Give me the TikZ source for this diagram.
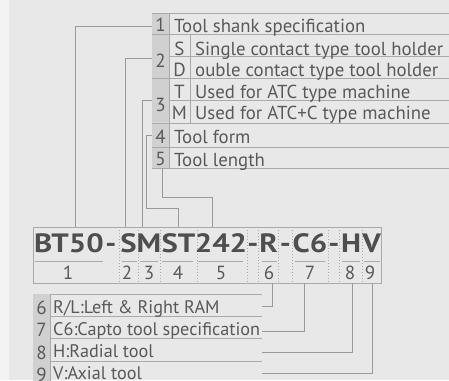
\documentclass[tikz,border=0pt]{standalone}
\usepackage{fontspec}
\setmainfont{PT Sans}
\newfontfamily\codefont{PT Sans Bold}[FakeStretch=1.16]
\definecolor{bgc}{HTML}{E8E8E8}
\definecolor{edgec}{HTML}{F3F3F3}
\definecolor{shade}{HTML}{D0D0D0}
\definecolor{rulec}{HTML}{AAAAAA}
\definecolor{connc}{HTML}{9A9A9A}
\definecolor{ink}{HTML}{595959}
\definecolor{codeink}{HTML}{4E4E4E}
\tikzset{
  rulel/.style={draw=rulec, line width=0.9pt},
  connl/.style={draw=connc, line width=0.9pt},
  sepl/.style={draw=rulec, line width=0.7pt, dash pattern=on 1.5pt off 1.5pt},
  numcell/.style={fill=shade, minimum width=17pt, inner sep=0pt, text=ink,
    font=\fontsize{19}{19}\selectfont, text depth=0pt},
  letter/.style={anchor=base, inner sep=0pt, text=ink, font=\fontsize{19}{19}\selectfont},
  desc/.style={anchor=base west, inner sep=0pt, text=ink, font=\fontsize{18.8}{18.8}\selectfont},
  descb/.style={desc, font=\fontsize{18.2}{18.2}\selectfont},
  codecell/.style={minimum height=56pt, inner sep=0pt},
  codetxt/.style={anchor=base, inner sep=0pt, text=codeink, font=\fontsize{26.5}{26.5}\codefont},
  idx/.style={anchor=base, inner sep=0pt, text=ink, font=\fontsize{19}{19}\selectfont},
  rowcell/.style={minimum width=212pt, minimum height=22pt, inner sep=0pt},
}
\begin{document}
\begin{tikzpicture}[x=1pt,y=-1pt]
\useasboundingbox (0,0) rectangle (449,380);
\fill[bgc] (0,0) rectangle (449,380);
\fill[edgec] (0,0) rectangle (9,380);

% ---------- top table ----------
\fill[shade] (152,13) rectangle (169,168);
\node[numcell, minimum height=21pt, text height=16pt] (n1) at (160.5,23.5) {1};
\node[numcell, minimum height=44pt, text height=22pt] (n2) at (160.5,56) {2};
\node[numcell, minimum height=44pt, text height=22pt] (n3) at (160.5,100) {3};
\node[numcell, minimum height=24pt, text height=16pt] (n4) at (160.5,135) {4};
\node[numcell, minimum height=21pt, text height=16pt] (n5) at (160.5,157.5) {5};
\foreach \yy in {13,34,78,123,147,168} \draw[rulel] (152,\yy) -- (449,\yy);
\foreach \yy in {56,100} \draw[rulel] (169,\yy) -- (449,\yy);
\draw[rulel] (169,13) -- (169,168);
\draw[rulel] (190,34) -- (190,123);

\node[desc] (d1) at (174,32) {Tool shank specification};
\node[letter] (lS) at (179.5,55) {S};
\node[desc] (dS) at (195,55) {Single contact type tool holder};
\node[letter] (lD) at (179.5,76.5) {D};
\node[desc] (dD) at (195,76.5) {ouble contact type tool holder};
\node[letter] (lT) at (179.5,98.3) {T};
\node[desc] (dT) at (195,98.3) {Used for ATC type machine};
\node[letter] (lM) at (179.5,119.5) {M};
\node[desc] (dM) at (195,119.5) {Used for ATC+C type machine};
\node[desc] (d4) at (174,143) {Tool form};
\node[desc] (d5) at (174,166) {Tool length};

% ---------- code box ----------
\node[draw=rulec, line width=0.9pt, minimum width=348pt, minimum height=56pt, inner sep=0pt] (box) at (207,255) {};
\node[codecell, minimum width=86pt] (c1) at (76,255) {};
\node[codecell, minimum width=19pt] (c2) at (128.5,255) {};
\node[codecell, minimum width=22pt] (c3) at (149,255) {};
\node[codecell, minimum width=37pt] (c4) at (178.5,255) {};
\node[codecell, minimum width=50pt] (c5) at (222,255) {};
\node[codecell, minimum width=19pt] (c6) at (268.5,255) {};
\node[codecell, minimum width=35pt] (c7) at (310.5,255) {};
\node[codecell, minimum width=22pt] (c8) at (351,255) {};
\node[codecell, minimum width=19pt] (c9) at (371.5,255) {};
\foreach \c in {c1,c2,c3,c4,c5,c6,c7,c8} \draw[sepl] (\c.north east) -- (\c.south east);
\foreach \c in {c6,c7,c8} \draw[sepl] (\c.north west) -- (\c.south west);

\node[codetxt] at (69,252) {BT50};
\node[codetxt] at (111,252) {-};
\node[codetxt] at (128.5,252) {S};
\node[codetxt] at (149,252) {M};
\node[codetxt] at (178.5,252) {ST};
\node[codetxt] at (221,252) {242};
\node[codetxt] at (253,252) {-};
\node[codetxt] at (268.5,252) {R};
\node[codetxt] at (285.5,252) {-};
\node[codetxt] at (310,252) {C6};
\node[codetxt] at (334,252) {-};
\node[codetxt] at (351,252) {H};
\node[codetxt] at (371.5,252) {V};

\foreach \xa/\xb in {35/103,122/137,140/158,162/193,198/243,262/277,295/325,342/360,364/380}
  \draw[rulel] (\xa,261) -- (\xb,261);

\node[idx] at (68,279.3) {1};
\node[idx] at (127,279.3) {2};
\node[idx] at (149,279.3) {3};
\node[idx] at (178,279.3) {4};
\node[idx] at (221,279.3) {5};
\node[idx] at (269,279.3) {6};
\node[idx] at (310,279.3) {7};
\node[idx] at (350,279.3) {8};
\node[idx] at (370,279.3) {9};

% ---------- bottom table ----------
\fill[shade] (33,294) rectangle (50,383);
\foreach \yy in {294,316,338,361,383} \draw[rulel] (33,\yy) -- (262,\yy);
\draw[rulel] (50,294) -- (50,383);
\node[numcell, minimum height=22pt, text height=19pt] (b6) at (41.5,305) {6};
\node[numcell, minimum height=22pt, text height=19pt] (b7) at (41.5,327) {7};
\node[numcell, minimum height=23pt, text height=19pt] (b8) at (41.5,349.5) {8};
\node[numcell, minimum height=22pt, text height=19pt] (b9) at (41.5,372) {9};
\node[rowcell] (e6) at (156,305) {};
\node[rowcell] (e7) at (156,327) {};
\node[rowcell] (e8) at (156,349.5) {};
\node[rowcell] (e9) at (156,372) {};
\node[descb] (t6) at (53,313) {R/L:Left \& Right RAM};
\node[descb] (t7) at (53,335) {C6:Capto tool specification};
\node[descb] (t8) at (53,357) {H:Radial tool};
\node[descb] (t9) at (53,379.5) {V:Axial tool};

% ---------- connectors ----------
\draw[connl] ([yshift=-3pt]n1.west) -| ([xshift=-1pt]c1.north);
\draw[connl] ([yshift=-2pt]n2.west) -| ([xshift=-3.5pt]c2.north);
\draw[connl] (n3.west) -| ([xshift=-7pt]c3.north);
\draw[connl] (n4.west) -- ++(-5,0) |- ([yshift=18pt]c4.north) -- (c4.north);
\draw[connl] ([xshift=1.5pt]n5.south) |- ([xshift=-10pt,yshift=29pt]c5.north) -- ([xshift=-10pt]c5.north);

\draw[connl] ([xshift=3.5pt]c6.south) |- ([yshift=-1pt]e6.east);
\draw[connl] ([xshift=-6.5pt]c7.south) |- ([yshift=-4pt]e7.east);
\draw[connl] ([xshift=1pt]c8.south) |- ([yshift=-2.5pt]e8.east);
\draw[connl] ([xshift=0.5pt]c9.south) |- ([yshift=-1pt]e9.east);
\end{tikzpicture}
\end{document}
